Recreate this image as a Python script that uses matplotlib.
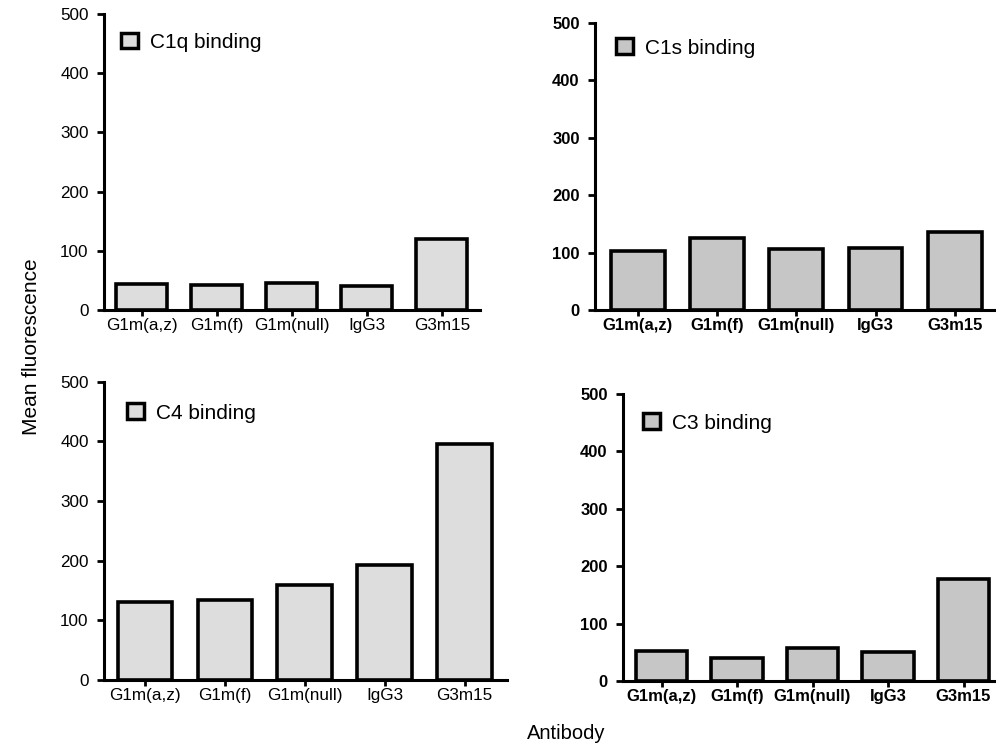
import matplotlib.pyplot as plt
from matplotlib.patches import Patch

plt.rcParams['font.family'] = ['Liberation Sans', 'DejaVu Sans']

antibodies = ["G1m(a,z)", "G1m(f)", "G1m(null)", "IgG3", "G3m15"]
c1q = [44, 42, 45, 41, 120]
c1s = [103, 125, 107, 108, 136]
c4 = [130, 134, 160, 193, 395]
c3 = [52, 40, 57, 51, 178]

fig = plt.figure(figsize=(9.96, 7.45), dpi=100)

# panel: (values, label, axes rect, xlim, fill, bold ticks, legend anchor)
panels = [
    (c1q, "C1q binding", [0.1044, 0.5839, 0.3775, 0.3973], (-0.5, 4.51), "#dddddd", False, (0.045, 0.905)),
    (c1s, "C1s binding", [0.5974, 0.5839, 0.4026, 0.3852], (-0.54, 4.52), "#c6c6c6", True, (0.052, 0.913)),
    (c4, "C4 binding", [0.1044, 0.0872, 0.4046, 0.4004], (-0.51, 4.53), "#dddddd", False, (0.057, 0.895)),
    (c3, "C3 binding", [0.6255, 0.0859, 0.3745, 0.3852], (-0.51, 4.43), "#c6c6c6", True, (0.054, 0.899)),
]

for vals, name, rect, xl, fill, bold, anchor in panels:
    ax = fig.add_axes(rect)
    x = range(len(antibodies))
    ax.bar(x, vals, width=0.68, color=fill, edgecolor="black", linewidth=2.6, zorder=2)
    ax.set_xlim(*xl)
    ax.set_ylim(0, 500)
    ax.set_yticks([0, 100, 200, 300, 400, 500])
    ax.set_xticks(list(x))
    w = "bold" if bold else "normal"
    fs = 12 if bold else 12.3
    ax.set_xticklabels(antibodies, fontsize=fs, fontweight=w)
    ax.set_yticklabels([str(v) for v in [0, 100, 200, 300, 400, 500]], fontsize=fs, fontweight=w)
    for s in ["top", "right"]:
        ax.spines[s].set_visible(False)
    for s in ["left", "bottom"]:
        ax.spines[s].set_linewidth(2.2)
    ax.tick_params(axis="y", length=5, width=2, pad=6)
    ax.tick_params(axis="x", length=4, width=2, pad=2)
    h = Patch(facecolor=fill, edgecolor="black", linewidth=2.5)
    ax.legend([h], [name], loc="center left", bbox_to_anchor=anchor, frameon=False,
              fontsize=15, borderpad=0, borderaxespad=0, handlelength=0.8,
              handleheight=0.8, handletextpad=0.6)

fig.text(0.032, 0.535, "Mean fluorescence", rotation=90, ha="center", va="center", fontsize=15)
fig.text(0.568, 0.016, "Antibody", ha="center", va="center", fontsize=14.5)

fig.savefig("out.png", dpi=100)
